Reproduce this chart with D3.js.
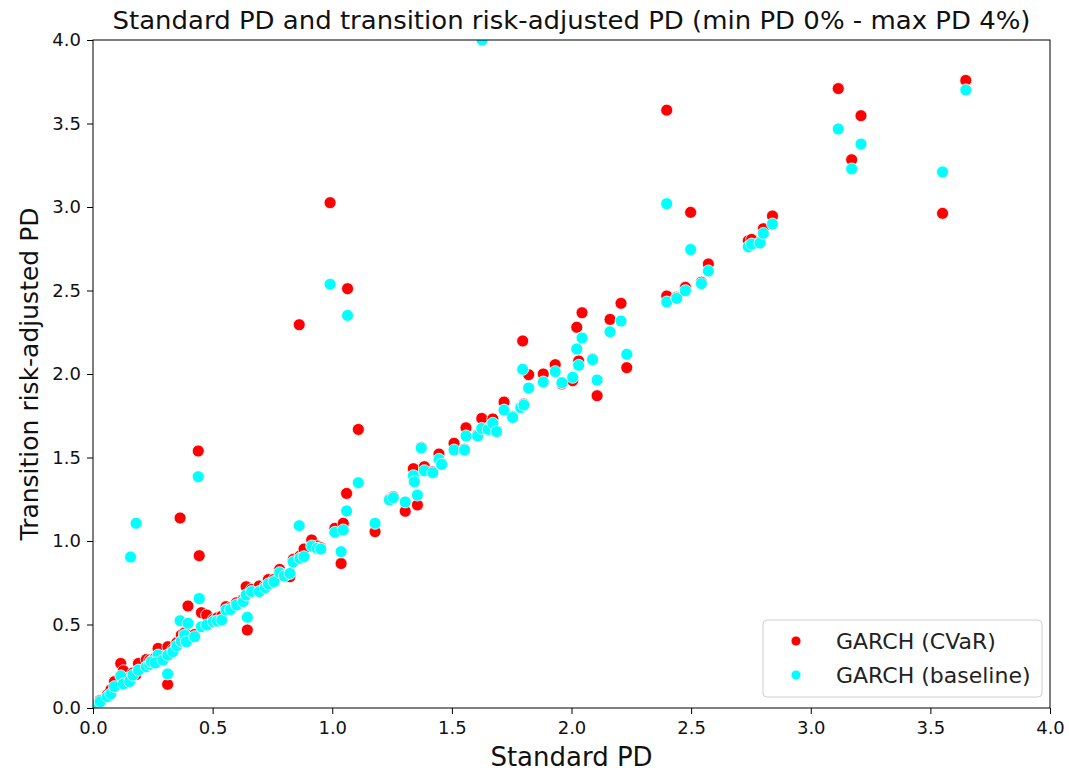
<!DOCTYPE html>
<html>
<head>
<meta charset="utf-8">
<script src="https://cdn.jsdelivr.net/npm/d3@7"></script>
<style>
  html, body { margin: 0; padding: 0; background: #fff; }
  svg { display: block; font-family: "DejaVu Sans", sans-serif; }
</style>
</head>
<body>
<svg id="chart" width="1069" height="771"></svg>
<script>
// ---- Data ----
const standardPD = [0.005,0.03,0.06,0.075,0.09,0.116,0.127,0.153,0.157,0.18,0.167,0.19,0.223,0.237,0.244,0.272,0.26,0.293,0.312,0.313,0.334,0.35,0.364,0.369,0.383,0.39,0.397,0.425,0.44,0.444,0.453,0.475,0.503,0.52,0.538,0.556,0.575,0.60,0.628,0.64,0.645,0.663,0.695,0.72,0.733,0.757,0.78,0.80,0.823,0.837,0.865,0.862,0.882,0.914,0.937,0.952,0.991,1.011,1.037,1.046,1.06,1.064,1.109,1.179,1.239,1.255,1.305,1.339,1.343,1.356,1.372,1.385,1.42,1.446,1.457,1.509,1.553,1.559,1.608,1.625,1.626,1.652,1.671,1.687,1.718,1.754,1.788,1.801,1.796,1.821,1.882,1.932,1.96,2.005,2.022,2.03,2.044,2.088,2.107,2.161,2.207,2.231,2.398,2.398,2.44,2.476,2.498,2.543,2.572,2.739,2.753,2.788,2.802,2.84,3.115,3.171,3.21,3.551,3.648];
const cvarPD = [0.02,0.045,0.08,0.11,0.158,0.267,0.223,0.17,0.19,0.20,0.21,0.267,0.291,0.287,0.28,0.357,0.30,0.31,0.142,0.367,0.35,0.39,1.138,0.437,0.45,0.41,0.611,0.44,1.539,0.912,0.571,0.557,0.53,0.54,0.55,0.607,0.60,0.63,0.65,0.726,0.467,0.71,0.731,0.73,0.769,0.77,0.83,0.80,0.786,0.89,0.91,2.295,0.952,1.006,0.97,0.96,3.026,1.076,0.865,1.106,1.285,2.511,1.668,1.056,1.25,1.265,1.178,1.433,1.36,1.216,1.56,1.445,1.415,1.521,1.465,1.585,1.55,1.678,1.635,1.734,null,1.675,1.731,1.66,1.832,1.745,1.80,1.82,2.198,1.996,2.0,2.056,1.94,1.96,2.28,2.078,2.367,2.09,1.87,2.327,2.423,2.038,3.58,2.467,2.46,2.519,2.968,2.55,2.659,2.798,2.806,2.79,2.870,2.946,3.709,3.283,3.547,2.962,3.758];
const baselinePD = [0.018,0.038,0.068,0.085,0.128,0.192,0.144,0.158,0.904,1.106,0.197,0.227,0.247,0.26,0.277,0.317,0.27,0.287,0.204,0.317,0.337,0.373,0.523,0.40,0.437,0.397,0.507,0.427,1.385,0.655,0.487,0.497,0.517,0.52,0.527,0.587,0.59,0.617,0.637,0.677,0.543,0.697,0.697,0.72,0.743,0.757,0.81,0.79,0.806,0.875,0.896,1.092,0.906,0.97,0.956,0.952,2.537,1.052,0.936,1.066,1.18,2.351,1.349,1.106,1.246,1.259,1.234,1.391,1.355,1.275,1.557,1.421,1.409,1.489,1.459,1.545,1.545,1.629,1.629,1.674,4.0,1.668,1.705,1.655,1.784,1.740,1.798,1.814,2.028,1.916,1.952,2.014,1.948,1.98,2.15,2.052,2.216,2.086,1.964,2.253,2.317,2.118,3.02,2.431,2.453,2.499,2.745,2.541,2.617,2.762,2.778,2.784,2.842,2.898,3.467,3.228,3.377,3.21,3.701];

const seriesNames = ["GARCH (CVaR)", "GARCH (baseline)"];
const seriesColors = ["#ff0000", "#00ffff"];
const xTicks = [0.0,0.5,1.0,1.5,2.0,2.5,3.0,3.5,4.0];
const yTicks = [0.0,0.5,1.0,1.5,2.0,2.5,3.0,3.5,4.0];
const titleText = "Standard PD and transition risk-adjusted PD (min PD 0% - max PD 4%)";
const xLabel = "Standard PD";
const yLabel = "Transition risk-adjusted PD";

// ---- Layout ----
const svg = d3.select("#chart");
const m = {left: 93, right: 1050, top: 40, bottom: 708};

const x = d3.scaleLinear().domain([0, 4]).range([m.left, m.right]);
const y = d3.scaleLinear().domain([0, 4]).range([m.bottom, m.top]);

svg.append("defs").append("clipPath").attr("id", "clip")
  .append("rect").attr("x", m.left).attr("y", m.top)
  .attr("width", m.right - m.left).attr("height", m.bottom - m.top);

// Points
const plot = svg.append("g").attr("clip-path", "url(#clip)");
const series = [cvarPD, baselinePD];
series.forEach((vals, si) => {
  const pts = standardPD.map((sx, i) => ({sx, v: vals[i]})).filter(d => d.v !== null);
  plot.append("g").selectAll("circle").data(pts).join("circle")
    .attr("cx", d => x(d.sx))
    .attr("cy", d => y(d.v))
    .attr("r", 6)
    .attr("fill", seriesColors[si])
    .attr("stroke", "#fff")
    .attr("stroke-width", 0.8);
});

// Axes
const xAxis = d3.axisBottom(x).tickValues(xTicks).tickFormat(d3.format(".1f")).tickSizeOuter(0).tickSize(6).tickPadding(7);
const yAxis = d3.axisLeft(y).tickValues(yTicks).tickFormat(d3.format(".1f")).tickSizeOuter(0).tickSize(6).tickPadding(6);

const gx = svg.append("g").attr("transform", `translate(0,${m.bottom})`).call(xAxis);
const gy = svg.append("g").attr("transform", `translate(${m.left},0)`).call(yAxis);
[gx, gy].forEach(g => {
  g.select(".domain").remove();
  g.selectAll("text").attr("font-size", 18).attr("fill", "#111").attr("font-family", "DejaVu Sans");
  g.selectAll("line").attr("stroke", "#000").attr("stroke-width", 1);
});

// Frame
svg.append("rect").attr("x", m.left).attr("y", m.top)
  .attr("width", m.right - m.left).attr("height", m.bottom - m.top)
  .attr("fill", "none").attr("stroke", "#000").attr("stroke-width", 1);

// Title & labels
svg.append("text").attr("x", (m.left + m.right) / 2).attr("y", 29)
  .attr("text-anchor", "middle").attr("font-size", 24).attr("fill", "#111")
  .attr("textLength", 918).attr("lengthAdjust", "spacingAndGlyphs")
  .text(titleText);

svg.append("text").attr("x", (m.left + m.right) / 2).attr("y", 766)
  .attr("text-anchor", "middle").attr("font-size", 26).attr("fill", "#111")
  .text(xLabel);

svg.append("text").attr("transform", `translate(38,${(m.top + m.bottom) / 2}) rotate(-90)`)
  .attr("text-anchor", "middle").attr("font-size", 25).attr("fill", "#111")
  .text(yLabel);

// Legend
const lg = svg.append("g");
lg.append("rect").attr("x", 763).attr("y", 620).attr("width", 279).attr("height", 77)
  .attr("rx", 4).attr("fill", "#fff").attr("fill-opacity", 0.8)
  .attr("stroke", "#d0d0d0").attr("stroke-width", 1);
seriesNames.forEach((name, i) => {
  const cy = 641 + i * 34;
  lg.append("circle").attr("cx", 796).attr("cy", cy).attr("r", 5)
    .attr("fill", seriesColors[i]).attr("stroke", "#fff").attr("stroke-width", 0.8);
  lg.append("text").attr("x", 836).attr("y", cy + 8)
    .attr("font-size", 22).attr("fill", "#222").text(name);
});
</script>
</body>
</html>
